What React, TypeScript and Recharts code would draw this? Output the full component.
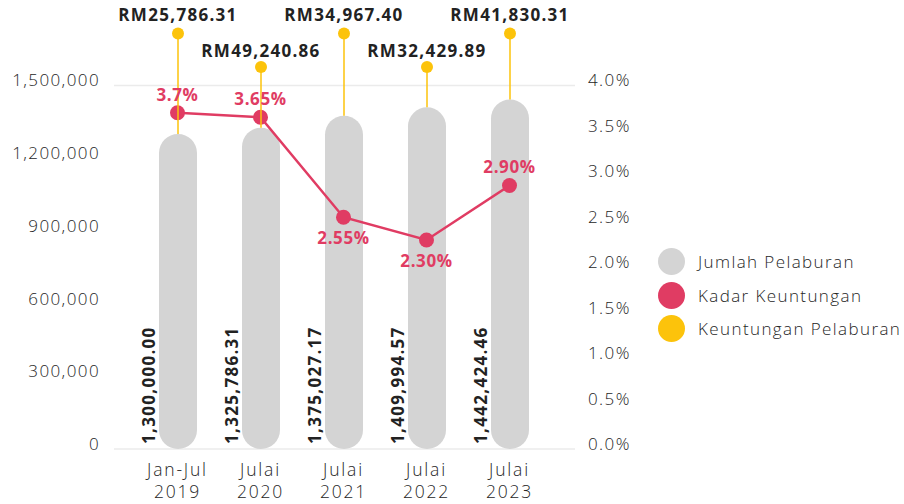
import React from 'react';
import { ComposedChart, Bar, Line, XAxis, YAxis, CartesianGrid, LabelList } from 'recharts';

const periods = ['Jan-Jul', 'Julai', 'Julai', 'Julai', 'Julai'];
const years = ['2019', '2020', '2021', '2022', '2023'];
const investment = [1300000.0, 1325786.31, 1375027.17, 1409994.57, 1442424.46];
const rate = [3.7, 3.65, 2.55, 2.3, 2.9];
const rateLabels = ['3.7%', '3.65%', '2.55%', '2.30%', '2.90%'];
const profit = [25786.31, 49240.86, 34967.4, 32429.89, 41830.31];
const leftTicks = [0, 300000, 600000, 900000, 1200000, 1500000];
const rightTicks = [0, 0.5, 1, 1.5, 2, 2.5, 3, 3.5, 4];
const legendItems = ['Jumlah Pelaburan', 'Kadar Keuntungan', 'Keuntungan Pelaburan'];

const data = years.map((y, i) => ({
  name: `${periods[i]} ${y}`,
  period: periods[i],
  year: y,
  investment: investment[i],
  rate: rate[i],
  rateLabel: rateLabels[i],
  profit: profit[i],
}));

const FONT = '"Open Sans", sans-serif';
const GRAY = '#d4d4d4';
const PINK = '#e03c63';
const YELLOW = '#fcc30b';
const TEXT = '#262626';
const DARK = '#222222';
const LS = 1.4;

const labelSide = ['top', 'top', 'bottom', 'bottom', 'top'];
const profitRows = [
  { dot: 33.5, text: 20.5 },
  { dot: 67, text: 56.5 },
];

const fmt2 = (v: number) =>
  v.toLocaleString('en-US', { minimumFractionDigits: 2, maximumFractionDigits: 2 });

const LeftTick = (props: any) => {
  const { x, y, payload } = props;
  return (
    <text x={x} y={y - 5} dy="0.35em" textAnchor="end" fontSize={17} fill={TEXT} fontFamily={FONT} fontWeight={300} letterSpacing={LS}>
      {Number(payload.value).toLocaleString('en-US')}
    </text>
  );
};

const RightTick = (props: any) => {
  const { x, y, payload } = props;
  return (
    <text x={x} y={y - 5} dy="0.35em" textAnchor="start" fontSize={17} fill={TEXT} fontFamily={FONT} fontWeight={300} letterSpacing={LS}>
      {Number(payload.value).toFixed(1)}%
    </text>
  );
};

const XTick = (props: any) => {
  const { x, y, index } = props;
  return (
    <text x={x} y={y} textAnchor="middle" fontSize={17.5} fill={TEXT} fontFamily={FONT} fontWeight={300} letterSpacing={1.8}>
      <tspan x={x} dy={27}>{periods[index]}</tspan>
      <tspan x={x} dy={22}>{years[index]}</tspan>
    </text>
  );
};

const ProfitLabel = (props: any) => {
  const { x, y, width, index, value } = props;
  const cx = x + width / 2;
  const row = profitRows[index % 2];
  return (
    <g>
      <line x1={cx} y1={y} x2={cx} y2={row.dot} stroke={YELLOW} strokeWidth={1.5} />
      <circle cx={cx} cy={row.dot} r={6} fill={YELLOW} />
      <text x={cx} y={row.text} textAnchor="middle" fontSize={17} fontWeight={700} fill={DARK} fontFamily={FONT} letterSpacing={1.3}>
        {'RM' + fmt2(Number(value))}
      </text>
    </g>
  );
};

const InvestLabel = (props: any) => {
  const { x, y, height, value } = props;
  const tx = x - 11;
  const ty = y + height - 5;
  return (
    <text
      x={tx}
      y={ty}
      textAnchor="start"
      dominantBaseline="central"
      transform={`rotate(-90, ${tx}, ${ty})`}
      fontSize={17}
      fontWeight={700}
      fill={DARK}
      fontFamily={FONT}
      letterSpacing={1.3}
    >
      {fmt2(Number(value))}
    </text>
  );
};

const RateLabel = (props: any) => {
  const { x, y, index, value } = props;
  const top = labelSide[index] === 'top';
  return (
    <text
      x={x}
      y={top ? y - 18 : y + 21}
      dy="0.35em"
      textAnchor="middle"
      fontSize={17}
      fontWeight={700}
      fill={PINK}
      fontFamily={FONT}
      letterSpacing={0.6}
    >
      {value}
    </text>
  );
};

const legendColors = [GRAY, PINK, YELLOW];

export default function App() {
  return (
    <div style={{ position: 'absolute', left: 0, top: 0, width: 904, height: 504, background: '#fff', fontFamily: FONT }}>
      <ComposedChart
        width={904}
        height={504}
        data={data}
        margin={{ top: 85.5, right: 259, bottom: 0, left: 0 }}
      >
        <CartesianGrid vertical={false} stroke="#ebebeb" strokeWidth={1.5} />
        <XAxis
          dataKey="name"
          height={55}
          axisLine={false}
          tickLine={false}
          tickSize={0}
          tickMargin={0}
          padding={{ left: 22, right: 24 }}
          tick={<XTick />}
          interval={0}
        />
        <YAxis
          yAxisId="left"
          orientation="left"
          width={114}
          domain={[0, 1500000]}
          ticks={leftTicks}
          axisLine={false}
          tickLine={false}
          tickSize={0}
          tickMargin={14}
          tick={<LeftTick />}
          interval={0}
        />
        <YAxis
          yAxisId="right"
          orientation="right"
          width={70}
          domain={[0, 4]}
          ticks={rightTicks}
          axisLine={false}
          tickLine={false}
          tickSize={0}
          tickMargin={13}
          tick={<RightTick />}
          interval={0}
        />
        <Bar
          yAxisId="left"
          dataKey="investment"
          fill={GRAY}
          barSize={38}
          radius={[19, 19, 19, 19]}
          isAnimationActive={false}
        >
          <LabelList dataKey="profit" content={<ProfitLabel />} />
          <LabelList dataKey="investment" content={<InvestLabel />} />
        </Bar>
        <Line
          yAxisId="right"
          dataKey="rate"
          stroke={PINK}
          strokeWidth={2.5}
          dot={{ r: 7.5, fill: PINK, stroke: 'none', strokeWidth: 0 }}
          activeDot={false}
          isAnimationActive={false}
        >
          <LabelList dataKey="rateLabel" content={<RateLabel />} />
        </Line>
      </ComposedChart>
      <div style={{ position: 'absolute', left: 658, top: 245 }}>
        {legendItems.map((name, i) => (
          <div key={name} style={{ display: 'flex', alignItems: 'center', height: 33.5 }}>
            <div style={{ width: 27, height: 27, borderRadius: '50%', background: legendColors[i], marginRight: 13, flexShrink: 0 }} />
            <span style={{ fontSize: 17, color: TEXT, fontWeight: 300, fontFamily: FONT, letterSpacing: LS, whiteSpace: 'nowrap' }}>{name}</span>
          </div>
        ))}
      </div>
    </div>
  );
}
